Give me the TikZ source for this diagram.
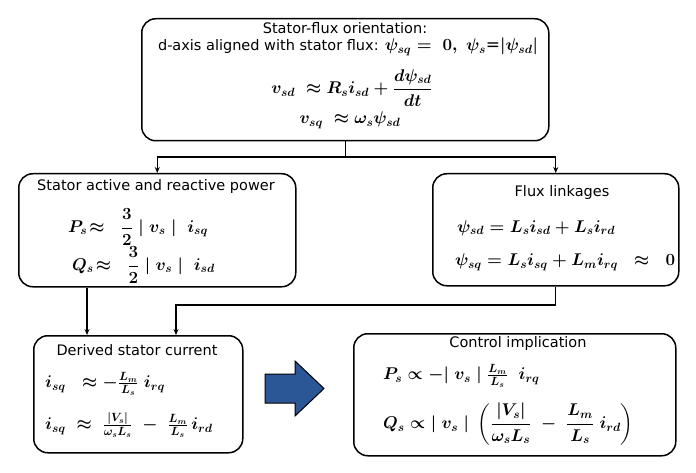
\RequirePackage{fix-cm}
\documentclass[tikz,border=0pt]{standalone}
\usepackage{fontspec}
\setmainfont{DejaVu Sans}
\usepackage{amsmath}
\usetikzlibrary{arrows.meta}
\definecolor{arrowblue}{RGB}{43,87,150}
\begin{document}
\begin{tikzpicture}[x=1pt,y=-1pt,
  box/.style={draw,line width=1.5pt,rounded corners=14pt,anchor=north west,inner sep=0pt},
  lbl/.style={inner sep=0pt,font=\fontsize{14.5}{17}\selectfont},
  mth/.style={inner sep=0pt,font=\fontsize{17}{20}\selectfont\boldmath},
  conn/.style={line width=1.3pt},
  arr/.style={conn,-{Stealth[length=6pt,width=5pt]}}]
\useasboundingbox (0,0) rectangle (696,473);
% boxes
\node[box,minimum width=407pt,minimum height=122pt] (top) at (141,18) {};
\node[box,minimum width=277pt,minimum height=113pt] (left) at (18,173) {};
\node[box,minimum width=246pt,minimum height=112pt] (right) at (432,173) {};
\node[box,minimum width=209pt,minimum height=117pt] (derived) at (33,335) {};
\node[box,minimum width=322pt,minimum height=122pt] (control) at (353,333) {};
% connectors
\coordinate (h) at (0,157);
\draw[conn] (top.south) -- (top.south |- h);
\draw[conn] (left.north |- h) -- (right.north |- h);
\draw[arr] (left.north |- h) -- (left.north);
\draw[arr] (right.north |- h) -- (right.north);
\coordinate (b1) at (87,0);
\draw[arr] (left.south -| b1) -- (derived.north -| b1);
\coordinate (b2) at (176,305);
\draw[arr] (right.south) |- (b2) -- (derived.north -| b2);
% block arrow
\draw[fill=arrowblue,line width=1pt,line join=miter] (265,374) -- (295,374) -- (295,361) -- (324,388.5) -- (295,416) -- (295,403) -- (265,403) -- cycle;
% top box text
\node[lbl] (t1) at (345,28) {Stator-flux orientation:};
\node[lbl] (t2) at (348,47) {d-axis aligned with stator flux: {\fontsize{17}{19}\selectfont\boldmath$\psi_{sq} =\ 0,\ \psi_s$=$|\psi_{sd}|$}};
\node[mth] (t3) at (352,88) {$v_{sd}\ \approx R_s i_{sd} + \dfrac{d\psi_{sd}}{dt}$};
\node[mth] (t4) at (350,120) {$v_{sq}\ \approx \omega_s\psi_{sd}$};
% left box text
\node[lbl] (l1) at (156,187) {Stator active and reactive power};
\node[mth,anchor=west] (l2) at (68,227) {$P_s\!\approx\ \ \dfrac{3}{2}\;|\;v_s\;|\;\; i_{sq}$};
\node[mth,anchor=west] (l3) at (72,265) {$Q_s\!\approx\ \ \dfrac{3}{2}\;|\;v_s\;|\;\; i_{sd}$};
% right box text
\node[lbl] (r1) at (562,193) {Flux linkages};
\node[mth,anchor=west] (r2) at (457,228) {$\psi_{sd} = L_s i_{sd} + L_s i_{rd}$};
\node[mth,anchor=west] (r3) at (455,262) {$\psi_{sq} = L_s i_{sq} + L_m i_{rq}\ \ \approx\ \ 0$};
% derived box text
\node[lbl] (d1) at (137,350) {Derived stator current};
\node[mth,anchor=west] (d2) at (45,384) {$i_{sq}\ \ \approx -\tfrac{L_m}{L_s}\; i_{rq}$};
\node[mth,anchor=west] (d3) at (45,425) {$i_{sq}\ \approx\ \tfrac{|V_s|}{\omega_s L_s}\ -\ \tfrac{L_m}{L_s}\, i_{rd}$};
% control box text
\node[lbl] (c1) at (518,343) {Control implication};
\node[mth,anchor=west] (c2) at (383,376) {$P_s \propto -|\ v_s\ |\;\tfrac{L_m}{L_s}\ \ i_{rq}$};
\node[mth,anchor=west] (c3) at (383,424) {$Q_s \propto|\ v_s\ |\ \left(\dfrac{|V_s|}{\omega_s L_s}\ -\ \dfrac{L_m}{L_s}\ i_{rd}\right)$};
\end{tikzpicture}
\end{document}
